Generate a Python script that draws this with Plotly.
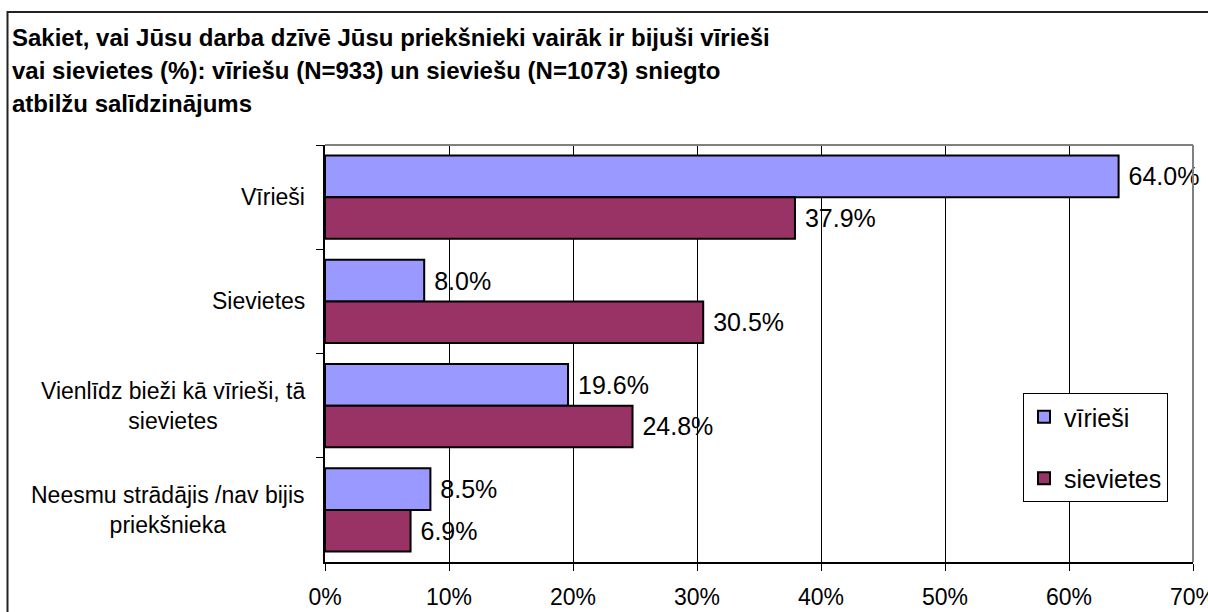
import plotly.graph_objects as go

# Survey answers (%), men vs women respondents
categories = [
    "Vīrieši",
    "Sievietes",
    "Vienlīdz bieži kā vīrieši, tā<br>sievietes",
    "Neesmu strādājis /nav bijis<br>priekšnieka",
]
series_names = ["vīrieši", "sievietes"]
men_values = [64.0, 8.0, 19.6, 8.5]
women_values = [37.9, 30.5, 24.8, 6.9]
x_ticks = [0, 10, 20, 30, 40, 50, 60, 70]
x_tick_labels = ["0%", "10%", "20%", "30%", "40%", "50%", "60%", "70%"]

title_lines = [
    "Sakiet, vai Jūsu darba dzīvē Jūsu priekšnieki vairāk ir bijuši vīrieši",
    "vai sievietes (%): vīriešu (N=933) un sieviešu (N=1073) sniegto",
    "atbilžu salīdzinājums",
]

FONT = "Liberation Sans, Arial, sans-serif"
colors = ["#9999FF", "#993366"]

fig = go.Figure()
for name, vals, col in zip(series_names, [men_values, women_values], colors):
    fig.add_trace(go.Bar(
        y=categories,
        x=vals,
        name=name,
        orientation="h",
        marker=dict(color=col, line=dict(color="black", width=2)),
        text=vals,
        texttemplate=" %{x:.1f}%",
        textposition="outside",
        textfont=dict(family=FONT, size=25, color="black"),
        constraintext="none",
        cliponaxis=False,
        legendgroup=name,
    ))

W, H = 1208, 612
L, R, T, B = 325, 15, 145, 50
pw, ph = W - L - R, H - T - B

def px_x(p):
    return (p - L) / pw

def px_y(p):
    return (H - B - p) / ph

annotations = []
# category labels: right edge near axis, lines centred
for cat in categories:
    annotations.append(dict(
        x=0, xref="paper", y=cat, yref="y",
        text=cat, showarrow=False,
        xanchor="right", yanchor="middle", align="center",
        xshift=-18,
        font=dict(family=FONT, size=23, color="black"),
    ))
# chart title, one annotation per line
title_tops = [22, 55, 88]
for line, top in zip(title_lines, title_tops):
    annotations.append(dict(
        x=px_x(10), xref="paper", y=px_y(top), yref="paper",
        text=line, showarrow=False,
        xanchor="left", yanchor="top", align="left",
        font=dict(family=FONT, size=24, color="black", weight="bold"),
    ))

shapes = [
    # plot area frame, top and right
    dict(type="line", xref="paper", yref="paper", x0=0, x1=1, y0=1, y1=1,
         line=dict(color="#808080", width=2)),
    dict(type="line", xref="paper", yref="paper", x0=1, x1=1, y0=0, y1=1,
         line=dict(color="#808080", width=2)),
    # outer chart border
    dict(type="rect", xref="paper", yref="paper",
         x0=px_x(7.5), x1=px_x(1230), y0=px_y(630), y1=px_y(12),
         line=dict(color="#222222", width=2), layer="above"),
]

fig.update_layout(
    width=W, height=H,
    margin=dict(l=L, r=R, t=T, b=B, pad=0, autoexpand=False),
    paper_bgcolor="white", plot_bgcolor="white",
    barmode="group", bargap=0.2, bargroupgap=0,
    font=dict(family=FONT, size=22, color="black"),
    showlegend=True,
    legend=dict(
        x=px_x(1023), y=px_y(393), xanchor="left", yanchor="top",
        bgcolor="white", bordercolor="black", borderwidth=1,
        font=dict(family=FONT, size=25, color="black"),
        tracegroupgap=26,
        itemclick=False,
    ),
    annotations=annotations,
    shapes=shapes,
)

fig.update_xaxes(
    range=[0, 70], tickvals=x_ticks, ticktext=x_tick_labels,
    showgrid=True, gridcolor="black", gridwidth=1,
    zeroline=False,
    showline=True, linecolor="black", linewidth=2,
    ticks="outside", ticklen=7, tickcolor="black", tickwidth=1,
    tickfont=dict(family=FONT, size=23, color="black"),
    ticklabelstandoff=6,
    ticklabeloverflow="allow",
    automargin=False,
    fixedrange=True,
)
fig.update_yaxes(
    categoryorder="array", categoryarray=categories,
    autorange="reversed",
    showticklabels=False,
    tickson="boundaries",
    ticks="outside", ticklen=7, tickcolor="black", tickwidth=1,
    showgrid=False, zeroline=False,
    showline=True, linecolor="black", linewidth=2,
    automargin=False,
    fixedrange=True,
)

fig.write_html("out.html")
